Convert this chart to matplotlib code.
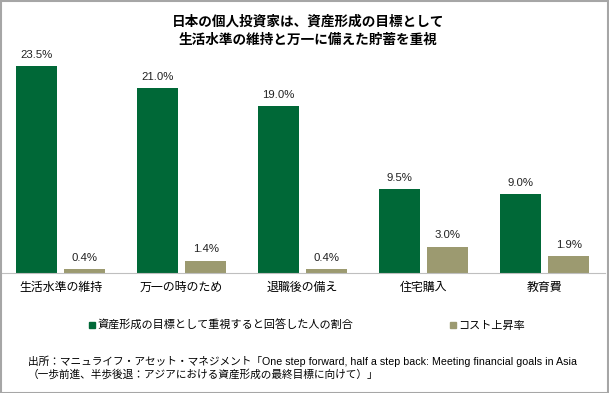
import numpy as np
import matplotlib.pyplot as plt
from matplotlib.lines import Line2D
from matplotlib.patches import Rectangle

plt.rcParams['font.family'] = ['Noto Sans CJK JP', 'DejaVu Sans']

# data
categories = ['生活水準の維持', '万一の時のため', '退職後の備え', '住宅購入', '教育費']
share = [23.5, 21.0, 19.0, 9.5, 9.0]
cost = [0.4, 1.4, 0.4, 3.0, 1.9]
series_names = ['資産形成の目標として重視すると回答した人の割合', 'コスト上昇率']
title = '日本の個人投資家は、資産形成の目標として\n生活水準の維持と万一に備えた貯蓄を重視'
source1 = '出所：マニュライフ・アセット・マネジメント「One step forward, half a step back: Meeting financial goals in Asia'
source2 = '（一歩前進、半歩後退：アジアにおける資産形成の最終目標に向けて）」'

green = '#006837'
olive = '#9C9A70'

W, H = 609, 393
fig = plt.figure(figsize=(W / 100, H / 100), dpi=100)
ax = fig.add_axes([0 / W, 120 / H, 605 / W, 220 / H])

x = np.arange(len(categories))
w = 0.34
b1 = ax.bar(x - 0.2, share, w, color=green)
b2 = ax.bar(x + 0.2, cost, w, color=olive)

num_font = ['Liberation Sans', 'DejaVu Sans']
for bars, vals in [(b1, share), (b2, cost)]:
    for r, v in zip(bars, vals):
        ax.annotate(f'{v:.1f}%', (r.get_x() + r.get_width() / 2, v),
                    xytext=(0, 4.5), textcoords='offset points',
                    ha='center', va='bottom', fontsize=8.2, family=num_font,
                    color='#222222')

ax.set_xlim(-0.5, 4.5)
ax.set_ylim(0, 25)
ax.set_yticks([])
ax.set_xticks(x)
ax.set_xticklabels(categories, fontsize=8.6)
ax.tick_params(axis='x', length=0, pad=6)
for s in ['top', 'right', 'left']:
    ax.spines[s].set_visible(False)
ax.spines['bottom'].set_color('#BFBFBF')

fig.text(308 / W, 1 - 31 / H, title, ha='center', va='center',
         fontsize=9.8, fontweight='bold', linespacing=1.4)

handles = [Line2D([], [], marker='s', ls='', color=green, markersize=4),
           Line2D([], [], marker='s', ls='', color=olive, markersize=4)]
fig.legend(handles, series_names, loc='center', ncol=2,
           bbox_to_anchor=(307 / W, 1 - 325 / H), frameon=False,
           fontsize=8, handlelength=0.6, handletextpad=0.2,
           columnspacing=8.6)

src_font = ['Liberation Sans', 'Noto Sans CJK JP']
fig.text(28 / W, 1 - 361 / H, source1, ha='left', va='center', fontsize=7.7,
         family=src_font)
fig.text(28 / W, 1 - 374 / H, source2, ha='left', va='center', fontsize=7.7,
         family=src_font)

fig.add_artist(Rectangle((0.5 / W, 0.5 / H), 1 - 1.5 / W, 1 - 1.5 / H,
                         transform=fig.transFigure, fill=False,
                         edgecolor='#A6A6A6', lw=1.5))

fig.savefig('out.png', dpi=100)
